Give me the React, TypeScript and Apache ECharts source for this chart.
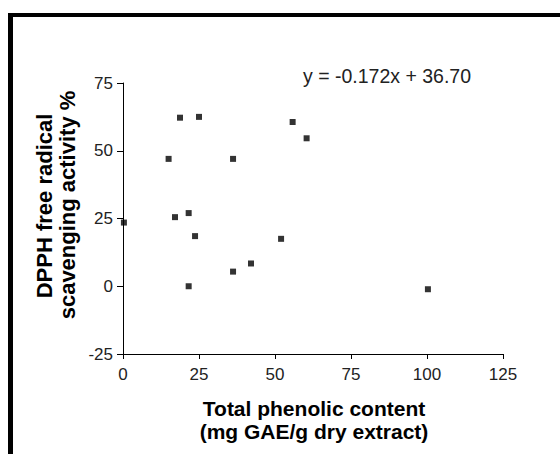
import React, { useEffect, useRef } from "react";
import * as echarts from "echarts";

const phenolic = [18.75, 25.0, 55.8, 60.4, 15.0, 36.2, 0.3, 17.1, 21.6, 23.7, 52.0, 42.1, 36.2, 21.6, 100.3];
const dpph = [62.2, 62.5, 60.6, 54.6, 47.0, 47.0, 23.5, 25.5, 27.0, 18.5, 17.5, 8.4, 5.4, 0.0, -1.1];
const xTitle = ["Total phenolic content", "(mg GAE/g dry extract)"];
const yTitle = ["DPPH free radical", "scavenging activity %"];
const equation = "y = -0.172x + 36.70";

export default function App() {
  const ref = useRef<HTMLDivElement>(null);
  useEffect(() => {
    if (!ref.current) return;
    const chart = echarts.init(ref.current, null, { renderer: "svg" });
    const font = "'Liberation Sans', Arial, sans-serif";
    chart.setOption({
      animation: false,
      backgroundColor: "#ffffff",
      grid: { left: 123, right: 57, top: 83, bottom: 100 },
      xAxis: {
        type: "value",
        min: 0,
        max: 125,
        interval: 25,
        splitLine: { show: false },
        axisLine: { show: true, onZero: false, lineStyle: { color: "#000", width: 1 } },
        axisTick: { show: true, length: 5, lineStyle: { color: "#000" } },
        axisLabel: { color: "#222", fontSize: 17, fontFamily: font, margin: 12 },
      },
      yAxis: {
        type: "value",
        min: -25,
        max: 75,
        interval: 25,
        splitLine: { show: false },
        axisLine: { show: true, onZero: false, lineStyle: { color: "#000", width: 1 } },
        axisTick: { show: true, length: 6, lineStyle: { color: "#000" } },
        axisLabel: { color: "#222", fontSize: 17, fontFamily: font, margin: 10 },
      },
      series: [
        {
          type: "scatter",
          symbol: "rect",
          symbolSize: 6,
          itemStyle: { color: "#000" },
          data: phenolic.map((x, i) => [x, dpph[i]]),
        },
      ],
      graphic: [
        { type: "rect", shape: { x: 8, y: 13, width: 552, height: 4 }, style: { fill: "#000" } },
        { type: "rect", shape: { x: 8, y: 13, width: 5, height: 441 }, style: { fill: "#000" } },
        {
          type: "text",
          x: 303,
          y: 76,
          style: { text: equation, fill: "#222", font: `19.5px ${font}`, textAlign: "left", textVerticalAlign: "middle" },
        },
        {
          type: "text",
          x: 314,
          y: 408,
          style: { text: xTitle[0], fill: "#000", font: `bold 21px ${font}`, textAlign: "center", textVerticalAlign: "middle" },
        },
        {
          type: "text",
          x: 314,
          y: 431,
          style: { text: xTitle[1], fill: "#000", font: `bold 21px ${font}`, textAlign: "center", textVerticalAlign: "middle" },
        },
        {
          type: "text",
          x: 44,
          y: 206,
          rotation: Math.PI / 2,
          style: { text: yTitle[0], fill: "#000", font: `bold 22px ${font}`, textAlign: "center", textVerticalAlign: "middle" },
        },
        {
          type: "text",
          x: 67,
          y: 205,
          rotation: Math.PI / 2,
          style: { text: yTitle[1], fill: "#000", font: `bold 22px ${font}`, textAlign: "center", textVerticalAlign: "middle" },
        },
      ],
    });
    return () => chart.dispose();
  }, []);
  return (
    <div
      ref={ref}
      style={{ position: "absolute", left: 0, top: 0, width: 560, height: 454 }}
    />
  );
}
